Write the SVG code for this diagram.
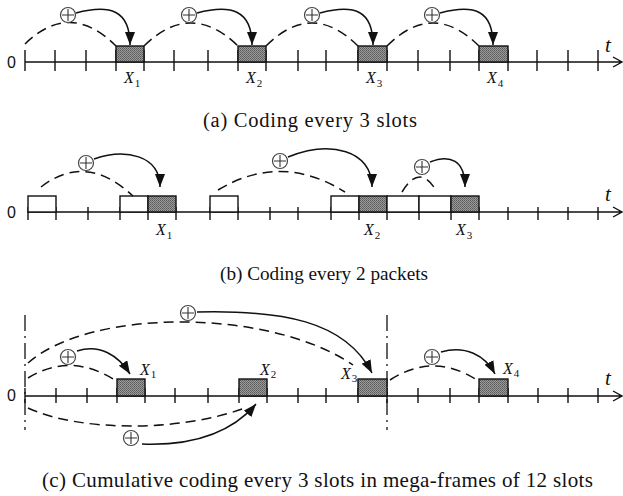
<svg xmlns="http://www.w3.org/2000/svg" width="623" height="496" viewBox="0 0 623 496">
<style>
.ax{stroke:#111;stroke-width:1.4;fill:none}
.tk{stroke:#111;stroke-width:1.4}
.box{fill:url(#chk);stroke:#111;stroke-width:1.4}
.wbox{fill:#fff;stroke:#111;stroke-width:1.4}
.dash{fill:none;stroke:#111;stroke-width:1.5;stroke-dasharray:10 6}
.arr{fill:none;stroke:#111;stroke-width:1.5;marker-end:url(#ah)}
.dd{stroke:#111;stroke-width:1.3;stroke-dasharray:16 5 2 5}
.zero{font-family:"Liberation Sans",Arial,sans-serif;font-size:16px;fill:#111}
.tl{font-family:"Liberation Serif","Times New Roman",serif;font-style:italic;font-size:21px;fill:#111}
.xl{font-family:"Liberation Serif","Times New Roman",serif;font-style:italic;font-size:16px;fill:#111}
.xl tspan{font-style:normal;font-size:11px}
.cap{font-family:"Liberation Serif","Times New Roman",serif;font-size:20.5px;fill:#111}
</style>
<defs>
<pattern id="chk" width="2" height="2" patternUnits="userSpaceOnUse">
<rect width="2" height="2" fill="#9a9a9a"/>
<rect width="1" height="1" fill="#5a5a5a"/>
<rect x="1" y="1" width="1" height="1" fill="#6a6a6a"/>
</pattern>
<marker id="ah" markerUnits="userSpaceOnUse" markerWidth="14" markerHeight="11" refX="13" refY="5" orient="auto">
<path d="M0,0 L13,5 L0,10 z" fill="#111"/>
</marker>
<g id="plus"><circle r="7.5" fill="#fff" stroke="#444" stroke-width="1.2"/><path d="M-6,0 H6 M0,-6 V6" stroke="#333" stroke-width="1.1" fill="none"/></g>
</defs>

<!-- Panel (a) -->
<g id="panel-a">
<g id="axis-a">
<path class="ax" d="M25,62 H622 M613,57 L622,62 L613,67"/>
<path class="tk" d="M25,50V71 M55,50V71 M86,50V71 M116,50V71 M144,50V71 M174,50V71 M208,50V71 M238,50V71 M266,50V71 M298,50V71 M326,50V71 M358,50V71 M387,50V71 M418,50V71 M450,50V71 M479,50V71 M508,50V71 M537,50V71 M568,50V71 M598,50V71"/>
<text class="zero" x="7" y="68">0</text>
<text class="tl" x="605" y="52">t</text>
</g>
<g id="a-x1"><rect class="box" x="116" y="46" width="28" height="16"/><text class="xl" x="124" y="83">X<tspan dx="1" dy="4">1</tspan></text></g>
<g id="a-x2"><rect class="box" x="238" y="46" width="28" height="16"/><text class="xl" x="246" y="83">X<tspan dx="1" dy="4">2</tspan></text></g>
<g id="a-x3"><rect class="box" x="358" y="46" width="29" height="16"/><text class="xl" x="366" y="83">X<tspan dx="1" dy="4">3</tspan></text></g>
<g id="a-x4"><rect class="box" x="479" y="46" width="29" height="16"/><text class="xl" x="487" y="83">X<tspan dx="1" dy="4">4</tspan></text></g>
<g id="a-connectors">
<path class="dash" d="M25,44 Q70,0 116,46"/>
<path class="dash" d="M144,46 Q191,0 238,46"/>
<path class="dash" d="M266,46 Q312,0 358,46"/>
<path class="dash" d="M387,46 Q433,0 479,46"/>
<path class="arr" d="M76,13 C110,4 130,10 130,45"/>
<path class="arr" d="M197,13 C231,4 252,10 252,45"/>
<path class="arr" d="M320,13 C354,4 373,10 373,45"/>
<path class="arr" d="M440,13 C474,4 493,10 493,45"/>
</g>
<g id="a-ops">
<use href="#plus" x="68" y="15"/><use href="#plus" x="189" y="15"/><use href="#plus" x="312" y="15"/><use href="#plus" x="432" y="15"/>
</g>
<text class="cap" x="203" y="127" textLength="214" lengthAdjust="spacing">(a)  Coding every 3 slots</text>
</g>

<!-- Panel (b) -->
<g id="panel-b">
<g id="axis-b">
<path class="ax" d="M28,212 H622 M613,207 L622,212 L613,217"/>
<path class="tk" d="M28,207V220 M56,207V220 M88,207V220 M120,207V220 M148,207V220 M176,207V220 M210,207V220 M238,207V220 M270,207V220 M298,207V220 M331,207V220 M359,207V220 M387,207V220 M419,207V220 M451,207V220 M479,207V220 M508,207V220 M538,207V220 M568,207V220 M598,207V220"/>
<text class="zero" x="7" y="218">0</text>
<text class="tl" x="605" y="201">t</text>
</g>
<g id="b-p1"><rect class="wbox" x="28" y="196" width="28" height="16"/></g>
<g id="b-p2"><rect class="wbox" x="120" y="196" width="28" height="16"/></g>
<g id="b-x1"><rect class="box" x="148" y="196" width="28" height="16"/><text class="xl" x="156" y="235">X<tspan dx="1" dy="4">1</tspan></text></g>
<g id="b-p3"><rect class="wbox" x="210" y="196" width="28" height="16"/></g>
<g id="b-p4"><rect class="wbox" x="331" y="196" width="28" height="16"/></g>
<g id="b-x2"><rect class="box" x="359" y="196" width="28" height="16"/><text class="xl" x="364" y="235">X<tspan dx="1" dy="4">2</tspan></text></g>
<g id="b-p5"><rect class="wbox" x="387" y="196" width="32" height="16"/></g>
<g id="b-p6"><rect class="wbox" x="419" y="196" width="32" height="16"/></g>
<g id="b-x3"><rect class="box" x="451" y="196" width="28" height="16"/><text class="xl" x="456" y="235">X<tspan dx="1" dy="4">3</tspan></text></g>
<g id="b-connectors">
<path class="dash" d="M41,187 Q86,152 133,196"/>
<path class="dash" d="M218,190 Q281,152 345,192"/>
<path class="dash" d="M402,192 Q420,162 437,192"/>
<path class="arr" d="M94,159 C125,148 160,155 160,187"/>
<path class="arr" d="M288,157 C330,140 372,150 372,187"/>
<path class="arr" d="M430,162 C450,154 465,160 465,187"/>
</g>
<g id="b-ops">
<use href="#plus" x="86" y="163"/><use href="#plus" x="280" y="161"/><use href="#plus" x="422" y="167"/>
</g>
<text class="cap" x="220" y="280" textLength="208" lengthAdjust="spacingAndGlyphs" style="font-size:19.5px">(b) Coding every 2 packets</text>
</g>

<!-- Panel (c) -->
<g id="panel-c">
<g id="axis-c">
<path class="ax" d="M25,396 H622 M613,391 L622,396 L613,401"/>
<path class="tk" d="M25,388V403 M56,388V403 M87,388V403 M117,388V403 M145,388V403 M175,388V403 M208,388V403 M239,388V403 M267,388V403 M298,388V403 M326,388V403 M358,388V403 M387,388V403 M418,388V403 M450,388V403 M479,388V403 M508,388V403 M538,388V403 M568,388V403 M598,388V403"/>
<path class="dd" d="M25,315V430 M387,315V430"/>
<text class="zero" x="7" y="401">0</text>
<text class="tl" x="605" y="385">t</text>
</g>
<g id="c-x1"><rect class="box" x="117" y="379" width="28" height="17"/><text class="xl" x="140" y="375">X<tspan dx="1" dy="3">1</tspan></text></g>
<g id="c-x2"><rect class="box" x="239" y="379" width="28" height="17"/><text class="xl" x="260" y="375">X<tspan dx="1" dy="3">2</tspan></text></g>
<g id="c-x3"><rect class="box" x="358" y="379" width="29" height="17"/><text class="xl" x="341" y="379">X<tspan dx="1" dy="3">3</tspan></text></g>
<g id="c-x4"><rect class="box" x="479" y="379" width="29" height="17"/><text class="xl" x="503" y="374">X<tspan dx="1" dy="3">4</tspan></text></g>
<g id="c-connectors">
<path class="dash" d="M28,378 Q70,352 115,380"/>
<path class="dash" d="M28,363 C90,308 270,308 353,365"/>
<path class="dash" d="M28,408 C80,432 180,432 245,408"/>
<path class="dash" d="M390,380 Q433,352 477,380"/>
<path class="arr" d="M77,351 C100,344 118,355 130,374"/>
<path class="arr" d="M197,312 C280,310 345,320 372,373"/>
<path class="arr" d="M142,444 C195,446 232,432 256,404"/>
<path class="arr" d="M441,352 C465,345 485,355 495,374"/>
</g>
<g id="c-ops">
<use href="#plus" x="68" y="357"/><use href="#plus" x="188" y="313"/><use href="#plus" x="131" y="438"/><use href="#plus" x="432" y="357"/>
</g>
<text class="cap" x="42" y="487" textLength="551" lengthAdjust="spacing" style="font-size:21px">(c) Cumulative coding every 3 slots in mega-frames of 12 slots</text>
</g>
</svg>
